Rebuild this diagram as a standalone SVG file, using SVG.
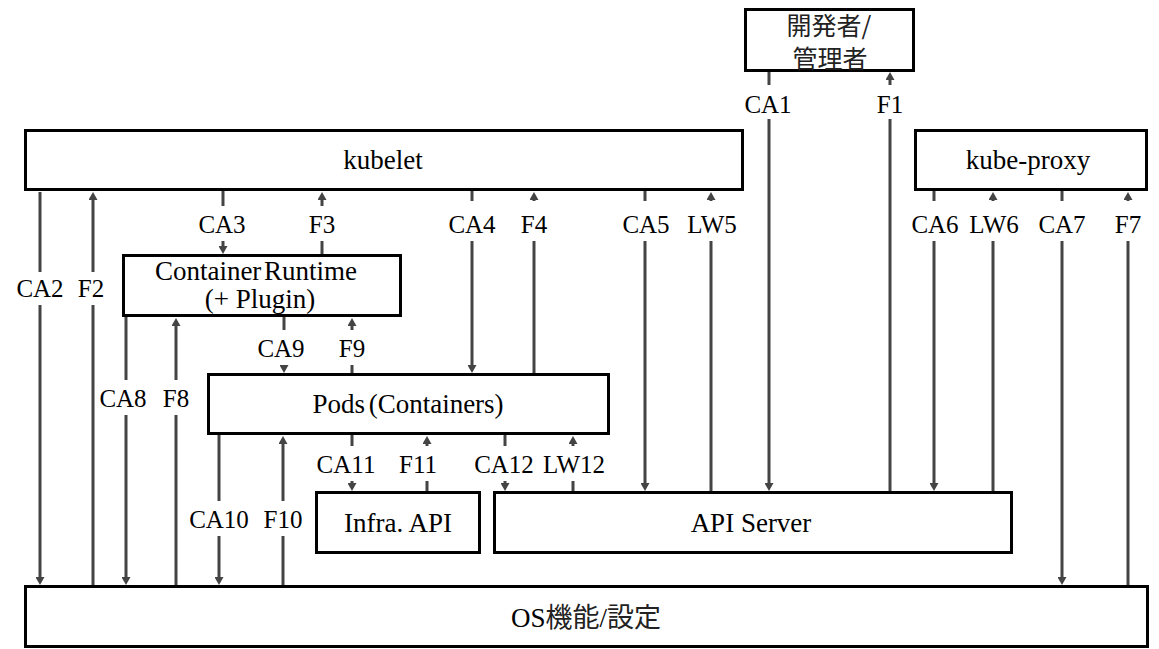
<svg xmlns="http://www.w3.org/2000/svg" width="1159" height="649" viewBox="0 0 1159 649">
<defs>
<marker id="ah" viewBox="0 0 8 9" refX="0" refY="4.5" markerWidth="8" markerHeight="9" markerUnits="userSpaceOnUse" orient="auto">
<path d="M0,0 L8,4.5 L0,9 z" fill="#444"/>
</marker>
</defs>
<rect width="1159" height="649" fill="#fff"/>

<g id="connectors" stroke="#444" stroke-width="3" fill="none" marker-end="url(#ah)">
<path d="M769,72 V483"/>
<path d="M40,192 V577"/>
<path d="M223,191 V246"/>
<path d="M472,191 V365"/>
<path d="M645,191 V483"/>
<path d="M934,191 V483"/>
<path d="M1062,191 V577"/>
<path d="M126,317 V577"/>
<path d="M284,317 V365"/>
<path d="M219,435 V577"/>
<path d="M352,435 V483"/>
<path d="M505,435 V483"/>
<path d="M890,491 V80"/>
<path d="M93,585 V200"/>
<path d="M322,254 V200"/>
<path d="M534,373 V200"/>
<path d="M711,491 V200"/>
<path d="M993,491 V200"/>
<path d="M1128,585 V200"/>
<path d="M176,585 V326"/>
<path d="M352,373 V326"/>
<path d="M283,585 V444"/>
<path d="M427,491 V444"/>
<path d="M573,491 V444"/>
</g>
<g id="label-gaps" fill="#fff">
<rect x="743" y="85" width="52" height="34"/>
<rect x="874" y="85" width="32" height="34"/>
<rect x="196" y="206" width="54" height="35"/>
<rect x="306" y="206" width="32" height="35"/>
<rect x="445" y="201" width="54" height="40"/>
<rect x="518" y="201" width="32" height="40"/>
<rect x="619" y="201" width="54" height="40"/>
<rect x="685" y="201" width="54" height="40"/>
<rect x="908" y="201" width="54" height="40"/>
<rect x="967" y="201" width="54" height="40"/>
<rect x="1035" y="201" width="54" height="40"/>
<rect x="1112" y="201" width="32" height="40"/>
<rect x="13" y="272" width="54" height="33"/>
<rect x="75" y="272" width="32" height="33"/>
<rect x="254" y="330" width="54" height="35"/>
<rect x="336" y="330" width="32" height="35"/>
<rect x="98" y="380" width="51" height="35"/>
<rect x="160" y="380" width="32" height="35"/>
<rect x="316" y="446" width="60" height="35"/>
<rect x="401" y="446" width="34" height="35"/>
<rect x="473" y="446" width="62" height="35"/>
<rect x="541" y="446" width="66" height="35"/>
<rect x="188" y="501" width="62" height="35"/>
<rect x="264" y="501" width="38" height="35"/>
</g>
<g id="connector-labels" font-family="Liberation Serif" font-size="25" fill="#000" text-anchor="middle">
<text style="font-family:'Liberation Serif',serif !important" x="768" y="113">CA1</text>
<text style="font-family:'Liberation Serif',serif !important" x="890" y="113">F1</text>
<text style="font-family:'Liberation Serif',serif !important" x="222" y="233">CA3</text>
<text style="font-family:'Liberation Serif',serif !important" x="322" y="233">F3</text>
<text style="font-family:'Liberation Serif',serif !important" x="472" y="233">CA4</text>
<text style="font-family:'Liberation Serif',serif !important" x="534" y="233">F4</text>
<text style="font-family:'Liberation Serif',serif !important" x="646" y="233">CA5</text>
<text style="font-family:'Liberation Serif',serif !important" x="712" y="233">LW5</text>
<text style="font-family:'Liberation Serif',serif !important" x="935" y="233">CA6</text>
<text style="font-family:'Liberation Serif',serif !important" x="994" y="233">LW6</text>
<text style="font-family:'Liberation Serif',serif !important" x="1062" y="233">CA7</text>
<text style="font-family:'Liberation Serif',serif !important" x="1128" y="233">F7</text>
<text style="font-family:'Liberation Serif',serif !important" x="40" y="297">CA2</text>
<text style="font-family:'Liberation Serif',serif !important" x="91" y="297">F2</text>
<text style="font-family:'Liberation Serif',serif !important" x="281" y="357">CA9</text>
<text style="font-family:'Liberation Serif',serif !important" x="352" y="357">F9</text>
<text style="font-family:'Liberation Serif',serif !important" x="123" y="407">CA8</text>
<text style="font-family:'Liberation Serif',serif !important" x="176" y="407">F8</text>
<text style="font-family:'Liberation Serif',serif !important" x="346" y="473">CA11</text>
<text style="font-family:'Liberation Serif',serif !important" x="418" y="473">F11</text>
<text style="font-family:'Liberation Serif',serif !important" x="504" y="473">CA12</text>
<text style="font-family:'Liberation Serif',serif !important" x="574" y="473">LW12</text>
<text style="font-family:'Liberation Serif',serif !important" x="219" y="528">CA10</text>
<text style="font-family:'Liberation Serif',serif !important" x="283" y="528">F10</text>
</g>

<g id="nodes" fill="#fff" stroke="#000" stroke-width="3">
<rect id="dev-box" x="745.5" y="9.5" width="168" height="61"/>
<rect id="kubelet-box" x="25.5" y="130.5" width="717" height="59"/>
<rect id="kube-proxy-box" x="915.5" y="130.5" width="231" height="59"/>
<rect id="container-runtime-box" x="123.5" y="255.5" width="277" height="60"/>
<rect id="pods-box" x="208.5" y="374.5" width="400" height="59"/>
<rect id="infra-api-box" x="316.5" y="492.5" width="163" height="60"/>
<rect id="api-server-box" x="494.5" y="492.5" width="517" height="60"/>
<rect id="os-box" x="25.5" y="586.5" width="1122" height="60"/>
</g>
<g id="node-texts" font-family="Liberation Serif" font-size="27" fill="#000" text-anchor="middle">
<g id="dev" font-family="Noto Sans CJK JP" font-size="25" fill="#222">
<text x="829" y="35">開発者/</text>
<text x="830" y="68">管理者</text>
</g>
<g id="kubelet"><text style="font-family:'Liberation Serif',serif !important" x="383" y="169">kubelet</text></g>
<g id="kube-proxy"><text style="font-family:'Liberation Serif',serif !important" x="1028" y="169">kube-proxy</text></g>
<g id="container-runtime">
<text style="font-family:'Liberation Serif',serif !important" x="256" y="280" word-spacing="-4">Container Runtime</text>
<text style="font-family:'Liberation Serif',serif !important" x="260" y="308">(+ Plugin)</text>
</g>
<g id="pods"><text style="font-family:'Liberation Serif',serif !important" x="408" y="413" word-spacing="-3">Pods (Containers)</text></g>
<g id="infra-api"><text style="font-family:'Liberation Serif',serif !important" x="398" y="532">Infra. API</text></g>
<g id="api-server"><text style="font-family:'Liberation Serif',serif !important" x="751" y="532">API Server</text></g>
<g id="os"><text style="font-family:'Liberation Serif','Noto Sans CJK JP',serif !important" x="586" y="627">OS<tspan style="font-family:'Noto Sans CJK JP',sans-serif !important" fill="#222">機能</tspan>/<tspan style="font-family:'Noto Sans CJK JP',sans-serif !important" fill="#222">設定</tspan></text></g>
</g>
</svg>
